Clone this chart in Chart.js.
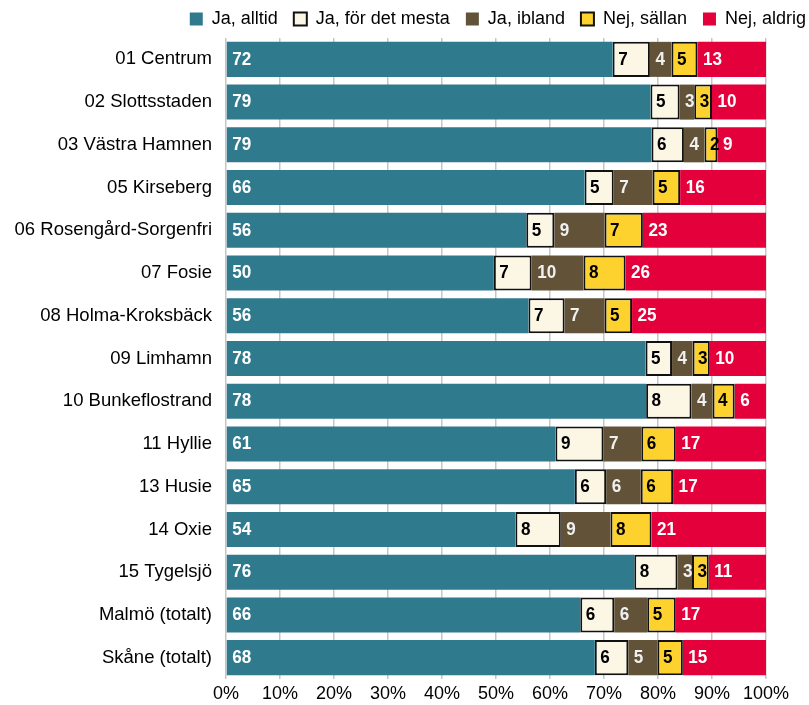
<!DOCTYPE html>
<html>
<head>
<meta charset="utf-8">
<script src="https://cdn.jsdelivr.net/npm/chart.js@4/dist/chart.umd.min.js"></script>
<style>
  html, body { margin: 0; padding: 0; background: #fff; }
  #wrap { width: 809px; height: 705px; }
</style>
</head>
<body>
<div id="wrap"><canvas id="c" width="809" height="705"></canvas></div>
<script>
const categories = ["01 Centrum", "02 Slottsstaden", "03 Västra Hamnen", "05 Kirseberg", "06 Rosengård-Sorgenfri", "07 Fosie", "08 Holma-Kroksbäck", "09 Limhamn", "10 Bunkeflostrand", "11 Hyllie", "13 Husie", "14 Oxie", "15 Tygelsjö", "Malmö (totalt)", "Skåne (totalt)"];
const seriesNames = ["Ja, alltid", "Ja, för det mesta", "Ja, ibland", "Nej, sällan", "Nej, aldrig"];
const jaAlltid  = [71.6, 78.6, 78.8, 66.4, 55.6, 49.6, 56.0, 77.7, 77.8, 61.0, 64.6, 53.6, 75.6, 65.6, 68.3];
const jaMesta   = [6.9, 5.4, 6.0, 5.4, 5.2, 7.0, 6.7, 4.9, 8.4, 8.9, 5.8, 8.4, 8.0, 6.3, 6.2];
const jaIbland  = [4.0, 2.7, 3.8, 7.2, 9.3, 9.6, 7.4, 3.8, 3.9, 7.0, 6.4, 9.2, 2.7, 6.1, 5.4];
const nejSallan = [4.8, 3.3, 2.4, 5.1, 7.1, 7.8, 5.1, 3.2, 4.1, 6.4, 6.0, 7.6, 3.1, 5.3, 4.7];
const nejAldrig = [12.7, 10.0, 9.0, 15.9, 22.8, 26.0, 24.8, 10.4, 5.8, 16.7, 17.2, 21.2, 10.6, 16.7, 15.4];
const xTicks = [0, 10, 20, 30, 40, 50, 60, 70, 80, 90, 100];

const fills = ["#307a8e", "#fcf6e4", "#625237", "#fdd22e", "#e4003a"];
const borders = [null, "#111111", null, "#111111", null];
const labelColors = ["#ffffff", "#000000", "#f0f0f0", "#000000", "#ffffff"];
const values = [jaAlltid, jaMesta, jaIbland, nejSallan, nejAldrig];

const FONT = "'Liberation Sans', Arial, sans-serif";

const datasets = values.map((v, i) => ({
  label: seriesNames[i],
  data: v,
  backgroundColor: fills[i],
  borderColor: borders[i] || fills[i],
  borderWidth: borders[i] ? 2 : 0,
  borderSkipped: false,
  barPercentage: 0.82,
  categoryPercentage: 1.0
}));

const labelPlugin = {
  id: 'segLabels',
  afterDatasetsDraw(chart) {
    const ctx = chart.ctx;
    const sx = 0.9;
    chart.data.datasets.forEach((ds, di) => {
      const meta = chart.getDatasetMeta(di);
      meta.data.forEach((el, i) => {
        const left = Math.min(el.x, el.base);
        ctx.save();
        ctx.translate(left + 5.5, el.y);
        ctx.scale(sx, 1);
        ctx.font = "bold 19px " + FONT;
        ctx.textBaseline = 'middle';
        ctx.textAlign = 'left';
        ctx.fillStyle = labelColors[di];
        ctx.fillText(String(Math.round(ds.data[i])), 0, 0);
        ctx.restore();
      });
    });
  }
};

new Chart(document.getElementById('c'), {
  type: 'bar',
  data: { labels: categories, datasets: datasets },
  options: {
    indexAxis: 'y',
    responsive: false,
    animation: false,
    devicePixelRatio: 1,
    layout: { padding: { left: 10, right: -13, top: -6, bottom: 0 } },
    plugins: {
      legend: {
        position: 'top',
        align: 'end',
        labels: {
          font: { family: FONT, size: 18 },
          color: '#000',
          boxWidth: 13,
          boxHeight: 13,
          padding: 16
        }
      },
      tooltip: { enabled: false }
    },
    scales: {
      x: {
        stacked: true,
        min: 0,
        max: 100,
        afterBuildTicks(scale) { scale.ticks = xTicks.map(v => ({ value: v })); },
        afterFit(scale) { scale.height = 26; },
        ticks: {
          callback: (v) => v + '%',
          font: { family: FONT, size: 18 },
          color: '#000',
          padding: 4,
          maxRotation: 0
        },
        grid: { color: '#c6c6c6', lineWidth: 1.5, drawTicks: false },
        border: { display: false }
      },
      y: {
        stacked: true,
        afterFit(scale) { scale.width = 216; },
        ticks: {
          font: { family: FONT, size: 18.5 },
          color: '#000',
          padding: 14
        },
        grid: { display: false, drawTicks: false },
        border: { display: false }
      },
      spacer: {
        type: 'linear',
        position: 'right',
        axis: 'y',
        display: true,
        afterFit(scale) { scale.width = 56; },
        ticks: { display: false },
        grid: { display: false, drawTicks: false },
        border: { display: false }
      }
    }
  },
  plugins: [labelPlugin]
});
</script>
</body>
</html>
